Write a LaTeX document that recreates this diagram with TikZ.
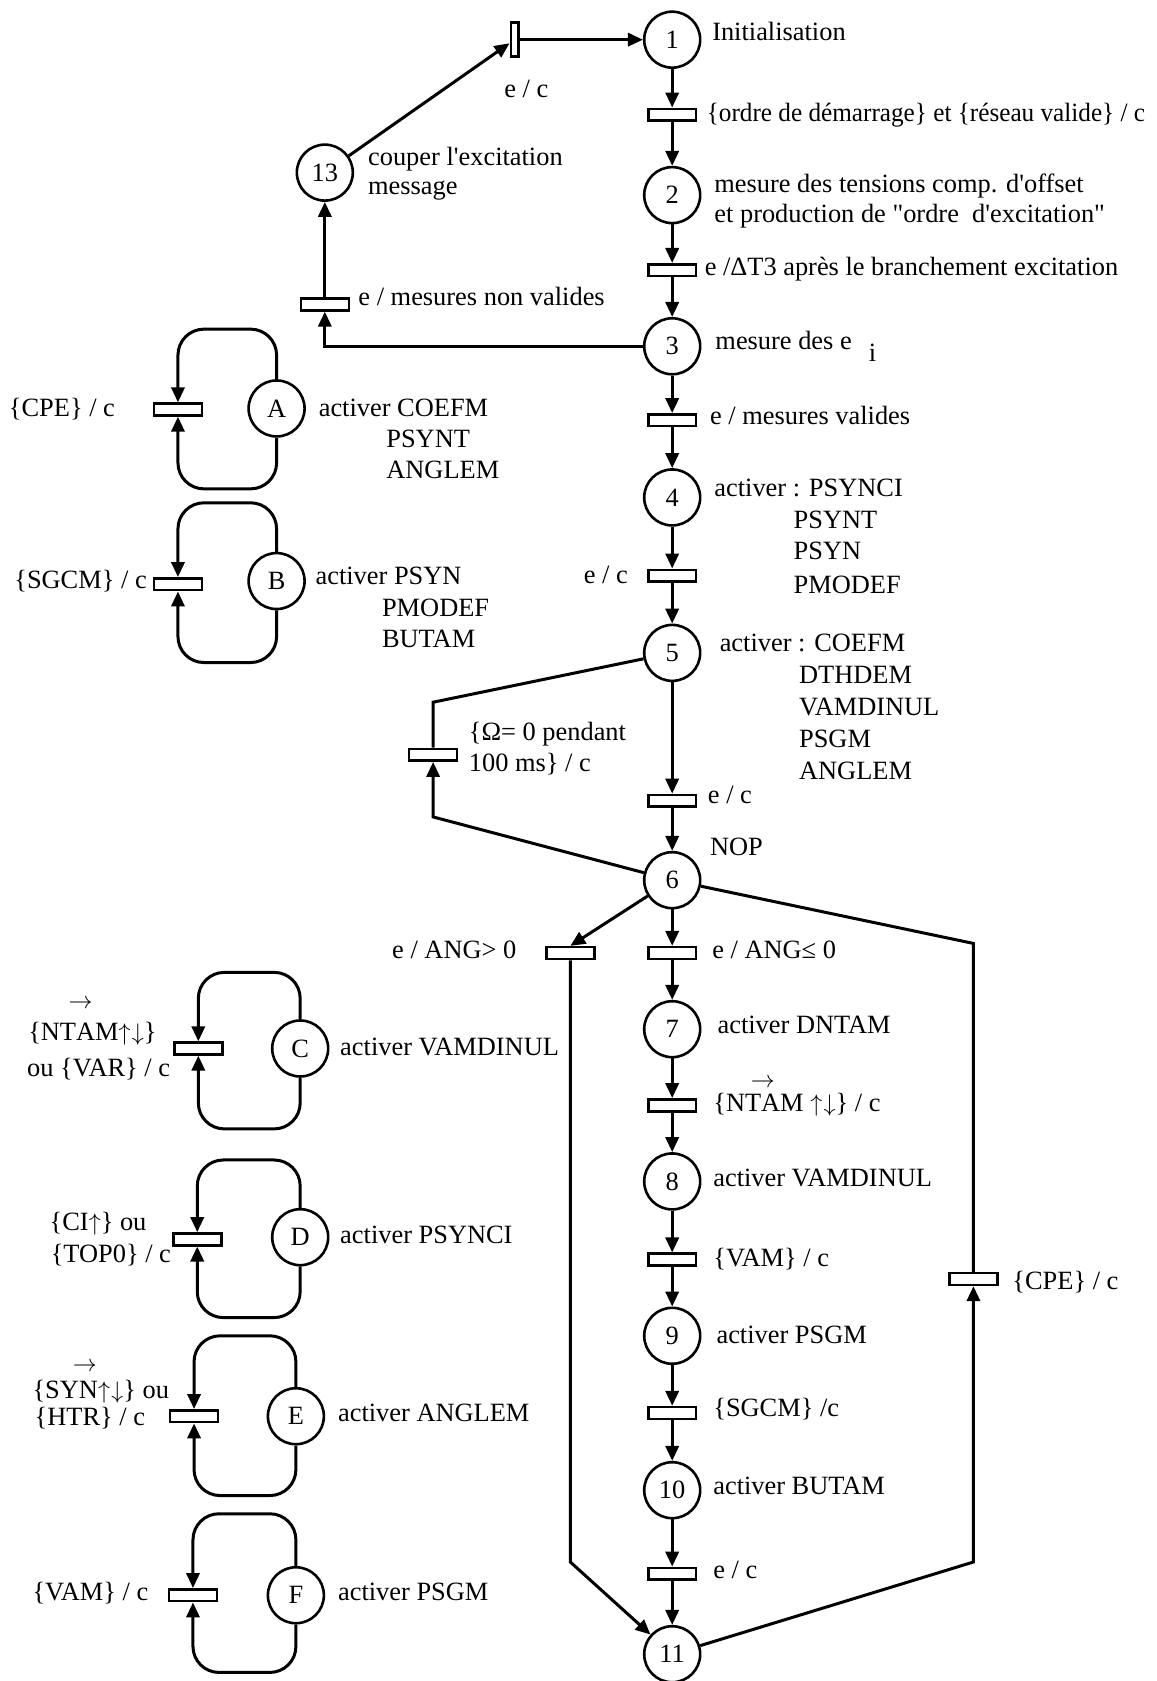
\documentclass[tikz,border=0pt]{standalone}
\usepackage{fontspec}
\newfontfamily\tnr{Liberation Serif}
\usetikzlibrary{arrows.meta}
\newcommand\ovarrow[2]{\makebox[0pt][l]{\kern#1\raisebox{#2}{$\rightarrow$}}}
\newcommand\updn{$\uparrow\mkern1mu\downarrow$}
\newcommand\upar{$\uparrow$}
\begin{document}
\begin{tikzpicture}[x=0.5362pt,y=-0.5362pt,
  every node/.style={font=\tnr\fontsize{13.2}{16}\selectfont},
  place/.style={circle,draw,line width=1.3pt,minimum size=28pt,inner sep=0pt},
  trans/.style={rectangle,draw,line width=1.3pt,minimum width=24pt,minimum height=5.9pt,inner sep=0pt},
  vtrans/.style={rectangle,draw,line width=1.3pt,minimum width=3.8pt,minimum height=17pt,inner sep=0pt},
  arc/.style={line width=1.5pt},
  arr/.style={arc,-{Triangle[length=7.5pt,width=6.6pt]}},
  lbl/.style={anchor=west,inner sep=0pt,text height=9.4pt,text depth=2.6pt},
  loop/.style={arr,rounded corners=13pt}]
\useasboundingbox (0,0) rectangle (1079,1568);

% main column
\node[place] (p1) at (627,37) {1};
\node[trans] (t12) at (627,107) {};
\node[place] (p2) at (627,182) {2};
\node[trans] (t23) at (627,252) {};
\node[place] (p3) at (627,323) {3};
\node[trans] (t34) at (627,392) {};
\node[place] (p4) at (627,464) {4};
\node[trans] (t45) at (627,537) {};
\node[place] (p5) at (627,609) {5};
\node[trans] (t56) at (627,747) {};
\node[place] (p6) at (627,821) {6};
\node[trans] (t67) at (627,889) {};
\node[place] (p7) at (627,960) {7};
\node[trans] (t78) at (627,1031) {};
\node[place] (p8) at (627,1102) {8};
\node[trans] (t89) at (627,1175) {};
\node[place] (p9) at (627,1246) {9};
\node[trans] (t910) at (627,1318) {};
\node[place] (p10) at (627,1390) {10};
\node[trans] (t1011) at (627,1468) {};
\node[place] (p11) at (627,1543) {11};

\foreach \a/\b in {p1/t12,t12/p2,p2/t23,t23/p3,p3/t34,t34/p4,p4/t45,t45/p5,p5/t56,t56/p6,p6/t67,t67/p7,p7/t78,t78/p8,p8/t89,t89/p9,p9/t910,t910/p10,p10/t1011,t1011/p11}
  \draw[arr] (\a) -- (\b);

% top loop back
\node[vtrans] (tb) at (480,37) {};
\node[place] (p13) at (303,161) {13};
\node[trans] (tmnv) at (303,284) {};
\coordinate (m1) at (303,323);
\draw[arr] (p13) -- (tb);
\draw[arr] (tb) -- (p1);
\draw[arr] (p3) -- (m1) -- (tmnv.south);
\draw[arr] (tmnv) -- (p13);

% Omega transition
\node[trans] (tom) at (404,704) {};
\coordinate (o1) at (404,655);
\coordinate (o2) at (404,762);
\draw[arc] (tom.north) -- (o1) -- (p5);
\draw[arr] (p6) -- (o2) -- (tom.south);

% branch ANG>0
\node[trans] (t6a) at (532,889) {};
\coordinate (l1) at (532,1457);
\draw[arr] (p6) -- (t6a.north);
\draw[arr] (t6a.south) -- (l1) -- (p11);

% CPE branch
\node[trans] (tcpe) at (908,1193) {};
\coordinate (r1) at (908,1457);
\coordinate (r2) at (908,880);
\draw[arr] (p11) -- (r1) -- (tcpe.south);
\draw[arc] (tcpe.north) -- (r2) -- (p6);

% self loops
\foreach \n/\px/\py/\tx/\ty/\top/\bot in {A/258/381/166/382/307/456, B/258/542/166/545/469/618, C/280/978/185/978/907/1053, D/280/1154/184/1156/1082/1229, E/276/1321/181/1321/1246/1395, F/276/1488/180/1488/1412/1560}{
  \node[place] (p\n) at (\px,\py) {\n};
  \node[trans] (t\n) at (\tx,\ty) {};
  \draw[loop] (p\n.north) -- (\px,\top) -- (\tx,\top) -- (t\n.north);
  \draw[loop] (p\n.south) -- (\px,\bot) -- (\tx,\bot) -- (t\n.south);
}

% labels main column
\node[lbl] at (664,31) {Initialisation};
\node[lbl] at (659,107) {\scalebox{0.955}[1]{\{ordre de démarrage\} et \{réseau valide\} / c}};
\node[lbl] at (666,173) {mesure des tensions comp. d'offset};
\node[lbl] at (666,201) {et production de "ordre~ d'excitation"};
\node[lbl] at (657,251) {e /ΔT3 après le branchement excitation};
\node[lbl] at (667,320) {mesure des e};
\node[lbl] at (810,331) {i};
\node[lbl] at (662,390) {e / mesures valides};
\node[lbl] at (666,457) {activer : PSYNCI};
\node[lbl] at (740,487) {PSYNT};
\node[lbl] at (740,516) {PSYN};
\node[lbl] at (740,547) {PMODEF};
\node[lbl,anchor=east] at (586,538) {e / c};
\node[lbl] at (671,601) {activer : COEFM};
\node[lbl] at (745,631) {DTHDEM};
\node[lbl] at (745,661) {VAMDINUL};
\node[lbl] at (745,691) {PSGM};
\node[lbl] at (745,721) {ANGLEM};
\node[lbl] at (660,743) {e / c};
\node[lbl] at (437,684) {\{Ω= 0 pendant};
\node[lbl] at (437,713) {100 ms\} / c};
\node[lbl] at (662,792) {NOP};
\node[lbl,anchor=east] at (482,888) {e / ANG> 0};
\node[lbl] at (664,888) {e / ANG≤ 0};
\node[lbl] at (669,958) {activer DNTAM};
\node[lbl] at (665,1030) {\{NT\ovarrow{-0.39em}{0.88em}AM \updn\} / c};
\node[lbl] at (665,1100) {activer VAMDINUL};
\node[lbl] at (665,1175) {\{VAM\} / c};
\node[lbl] at (668,1247) {activer PSGM};
\node[lbl] at (665,1315) {\{SGCM\} /c};
\node[lbl] at (665,1388) {activer BUTAM};
\node[lbl] at (665,1466) {e / c};
\node[lbl] at (944,1196) {\{CPE\} / c};
\node[lbl] at (343,148) {couper l'excitation};
\node[lbl] at (343,175) {message};
\node[lbl] at (334,279) {e / mesures non valides};
\node[lbl,anchor=center] at (491,85) {e / c};

% labels of self loops
\node[lbl] at (8,382) {\{CPE\} / c};
\node[lbl] at (297,382) {activer COEFM};
\node[lbl] at (360,411) {PSYNT};
\node[lbl] at (360,440) {ANGLEM};
\node[lbl] at (13,543) {\{SGCM\} / c};
\node[lbl] at (294,539) {activer PSYN};
\node[lbl] at (356,569) {PMODEF};
\node[lbl] at (356,598) {BUTAM};
\node[lbl] at (26,964) {\{NT\ovarrow{-0.28em}{1.2em}AM\updn\}};
\node[lbl] at (25,998) {ou \{VAR\} / c};
\node[lbl] at (317,978) {activer VAMDINUL};
\node[lbl] at (46,1141) {\{CI\upar\} ou};
\node[lbl] at (47,1171) {\{TOP0\} / c};
\node[lbl] at (317,1154) {activer PSYNCI};
\node[lbl] at (30,1298) {\{SY\ovarrow{-0.23em}{1.0em}N\updn\} ou};
\node[lbl] at (32,1323) {\{HTR\} / c};
\node[lbl] at (315,1320) {activer ANGLEM};
\node[lbl] at (30,1487) {\{VAM\} / c};
\node[lbl] at (315,1487) {activer PSGM};
\end{tikzpicture}
\end{document}
